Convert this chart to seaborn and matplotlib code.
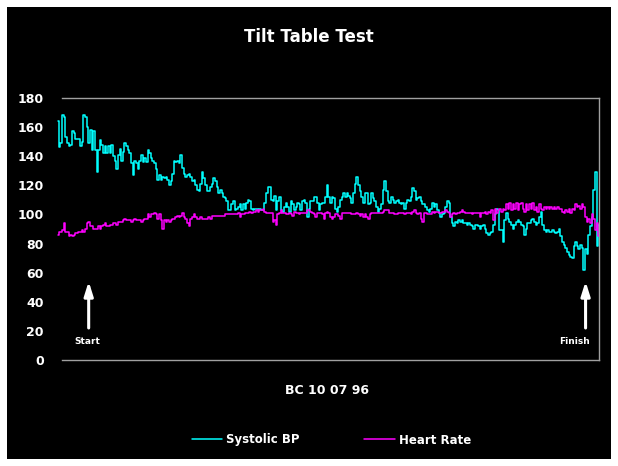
import numpy as np
import matplotlib
matplotlib.use("Agg")
import matplotlib.pyplot as plt
import matplotlib.transforms as mtransforms
import seaborn as sns
from matplotlib.patches import Rectangle

# readings traced off the recorder strip, left to right
systolic_bp = [
    164, 146,
    149, 168, 167, 153, 149, 147, 148, 157, 156, 152, 152, 152, 147, 150, 168, 167, 160, 149,
    158, 144, 157, 144, 129, 144, 151, 148, 142, 147, 142, 147, 142, 148, 140, 137, 131, 141,
    145, 137, 143, 149, 147, 144, 142, 135, 127, 137, 135, 131, 137, 141, 136, 139, 136, 144, 142,
    139, 137, 135, 131, 124, 127, 124, 126, 125, 126, 124, 120, 123, 128, 137, 136, 137, 135,
    141, 132, 128, 126, 127, 128, 126, 123, 124, 120, 117, 116, 121, 129, 125, 120, 116, 116,
    119, 121, 125, 123, 119, 115, 117, 115, 112, 111, 109, 103, 103, 107, 109, 103, 104, 105,
    107, 103, 107, 104, 108, 110, 109, 104, 103, 104, 104, 103, 104, 103, 103, 108, 115, 119,
    119, 110, 109, 113, 103, 109, 112, 103, 102, 105, 108, 105, 102, 109, 107, 103, 105, 108,
    107, 103, 109, 110, 108, 98, 104, 109, 109, 112, 112, 108, 103, 107, 108, 108, 112, 120,
    112, 108, 112, 111, 104, 102, 105, 110, 112, 115, 112, 115, 113, 111, 108, 115, 121, 126,
    120, 116, 112, 108, 115, 115, 107, 108, 115, 111, 109, 105, 102, 104, 107, 117, 123, 116,
    109, 108, 112, 110, 108, 109, 110, 108, 107, 108, 104, 108, 110, 109, 112, 118, 116, 110,
    111, 112, 109, 107, 107, 105, 103, 102, 104, 108, 105, 107, 103, 101, 98, 100, 101, 105,
    109, 108, 98, 94, 92, 95, 94, 96, 95, 96, 94, 94, 93, 94, 93, 92, 90, 93, 93, 92,
    90, 92, 93, 90, 87, 86, 87, 88, 93, 100, 104, 103, 89, 89, 81, 96,
    101, 97, 95, 93, 90, 93, 95, 96, 95, 93, 92, 86, 90, 94, 94, 96, 97, 95, 93, 94,
    98, 102, 93, 89, 88, 89, 88, 88, 89, 88, 87, 88, 90, 85, 81, 79, 77, 74, 72, 71,
    70, 78, 81, 78, 76, 79, 77, 62, 76, 73, 86, 92, 98, 117, 129, 78, 93,
]
heart_rate = [
    86, 88,
    88, 89, 94, 88, 88, 85, 86, 85, 86, 87, 87, 88, 88, 89, 88, 90, 94, 95, 92, 92,
    90, 90, 90, 92, 90, 92, 93, 94, 92, 92, 93, 93, 94, 94, 93, 95, 95, 95, 96, 97,
    96, 96, 96, 95, 96, 97, 96, 96, 96, 95, 96, 97, 97, 100, 98,
    100, 100, 101, 100, 97, 100, 96, 90, 96, 95, 96, 95, 96, 97, 97, 98, 99, 98, 99, 101,
    98, 97, 94, 92, 97, 98, 100, 98, 97, 97, 98, 97, 97, 97, 97, 98, 97, 99, 99, 99,
    99, 99, 99, 99, 99, 100, 100, 100, 100, 100, 100, 100, 100, 101,
    98, 100, 100, 101, 101, 101, 102, 101, 102, 102, 103, 102, 103, 103, 104, 102, 101, 101,
    101, 101, 95, 96, 93, 100, 101, 103, 101, 101, 100, 100, 101, 100, 99, 102, 101, 101,
    100, 101, 101, 101, 101, 103, 103, 102, 101, 100, 98, 101, 101, 101, 100, 97, 101, 102,
    101, 98, 97, 98, 100, 100, 99, 97, 101, 101, 101, 101, 101, 101, 100, 100, 100, 101,
    100, 99, 100, 98, 100, 98, 97, 100, 101, 101, 101, 101, 101, 101, 101, 102, 103, 103,
    103, 101, 101, 101, 100, 100, 101, 101, 101, 101, 100, 101, 101, 101, 100, 102, 103, 101,
    100, 101, 97, 95, 101, 101, 100, 100, 100, 102, 101, 102, 102, 101, 101, 102, 102, 103,
    102, 101, 98, 100, 101, 100, 101, 101, 102, 103, 102, 101, 101, 101, 101, 100, 101, 101,
    101, 101, 98, 101, 101, 102, 100, 102, 101, 103, 96, 104, 101, 103, 104, 102, 104, 103,
    107, 104, 108, 103, 107, 104, 108, 103, 107, 108, 104, 102, 107, 103, 107, 104, 108, 103,
    105, 102, 107, 104, 103, 105, 104, 105, 104, 105, 104, 105, 104, 105, 104, 104, 102, 101,
    103, 102, 104, 101, 104, 103, 107, 105, 106, 104, 107,
    105, 98, 95, 97, 94, 100, 97, 89, 94, 85,
]
series_names = ["Systolic BP", "Heart Rate"]
series_colors = ["#00ffff", "#ff00ff"]
y_ticks = [0, 20, 40, 60, 80, 100, 120, 140, 160, 180]
title = "Tilt Table Test"
x_label = "BC 10 07 96"
events = ["Start", "Finish"]

sns.set_theme(style="dark")
plt.rcParams["font.family"] = ["DejaVu Sans"]

W, H = 618, 466
fig = plt.figure(figsize=(W / 100, H / 100), dpi=100, facecolor="white")
fig.add_artist(Rectangle((7 / W, 7 / H), 604 / W, 452 / H, transform=fig.transFigure,
                         facecolor="black", edgecolor="none", zorder=-5))

ax = fig.add_axes([62 / W, 1 - 360 / H, 537 / W, 262 / H])
ax.set_facecolor("black")

samples = np.arange(len(systolic_bp))
for vals, name, col in zip([systolic_bp, heart_rate], series_names, series_colors):
    sns.lineplot(x=samples, y=vals, color=col, linewidth=1.1, drawstyle="steps-mid",
                 label=name, ax=ax)
for ln in ax.lines:
    ln.set_clip_on(False)
if ax.get_legend() is not None:
    ax.get_legend().remove()

ax.set_xlim(2.5, len(samples) - 1)
ax.set_ylim(0, 180)
ax.set_yticks(y_ticks)
ax.set_xticks([])
ax.set_xlabel("")
ax.set_ylabel("")
ax.grid(False)
ax.tick_params(axis="y", length=0, pad=13, labelcolor="white", labelsize=9)
for lbl in ax.get_yticklabels():
    lbl.set_fontweight("bold")
for side in ["top", "right", "bottom"]:
    ax.spines[side].set_visible(True)
    ax.spines[side].set_color("#a0a0a0")
    ax.spines[side].set_linewidth(1.0)
ax.spines["left"].set_visible(False)

# start / finish arrows
blend = mtransforms.blended_transform_factory(ax.transAxes, ax.transData)
for name, fx, tx in zip(events, [0.0497, 0.975], [0.0466, 0.955]):
    ax.annotate("", xy=(fx, 54), xytext=(fx, 22), xycoords=blend, textcoords=blend,
                arrowprops=dict(arrowstyle="-|>,head_length=0.7,head_width=0.22",
                                color="white", lw=2.2, shrinkA=0, shrinkB=0))
    ax.text(tx, 13, name, transform=blend, color="white", fontsize=6.5,
            fontweight="bold", ha="center", va="center")

fig.text(0.5, 1 - 37 / H, title, color="white", fontsize=12, fontweight="bold",
         ha="center", va="center")
fig.text(327 / W, 1 - 390 / H, x_label, color="white", fontsize=9, fontweight="bold",
         ha="center", va="center")

handles, labels = ax.get_legend_handles_labels()
fig.legend(handles, labels, loc="center", bbox_to_anchor=(0.536, 1 - 440 / H), ncol=2,
           frameon=False, prop={"weight": "bold", "size": 8.5}, labelcolor="white",
           handlelength=2.6, handletextpad=0.3, columnspacing=5.5)

fig.savefig("out.png", dpi=100, facecolor=fig.get_facecolor())
